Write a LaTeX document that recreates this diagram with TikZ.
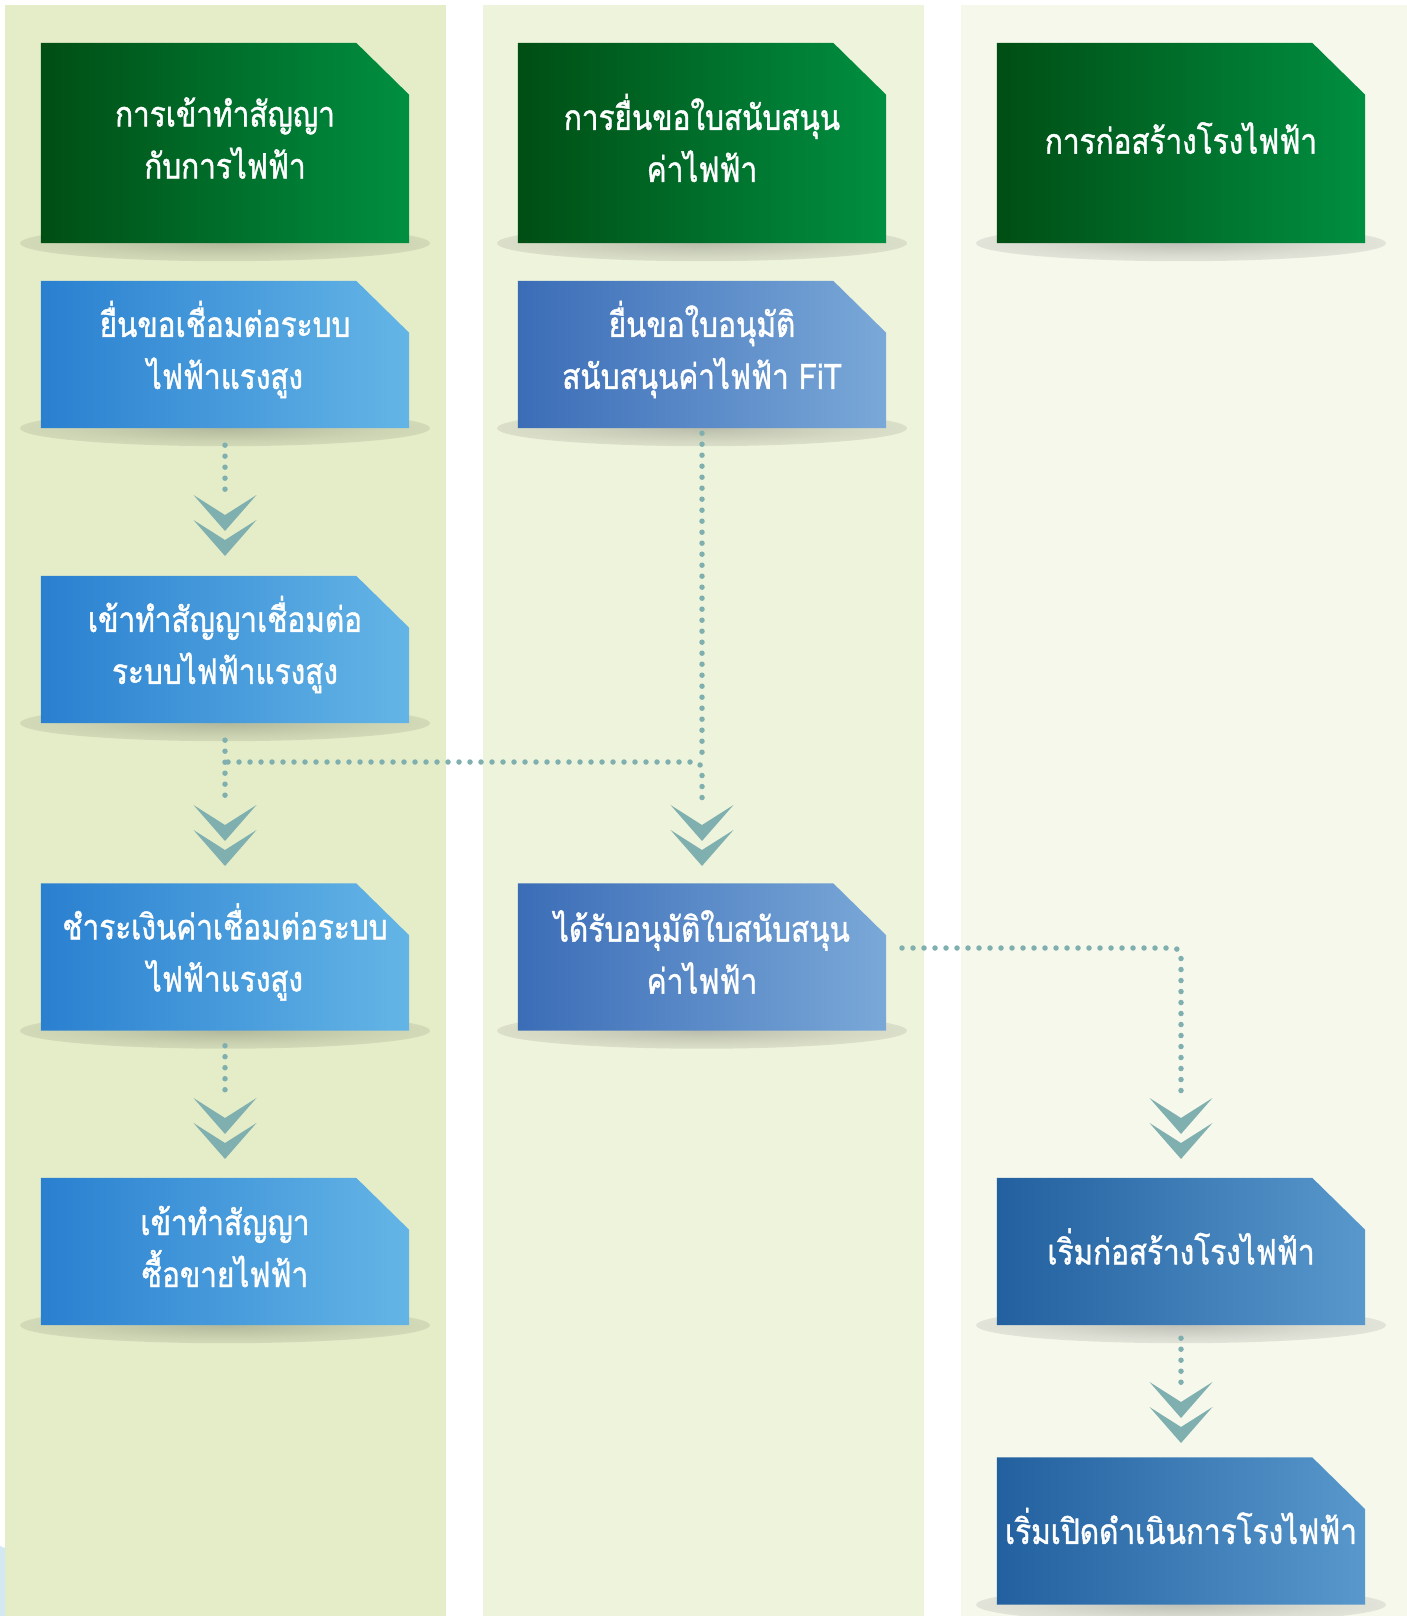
\documentclass[tikz,border=0pt]{standalone}
\usepackage{fontspec}
\newfontfamily\thai[Script=Thai, FakeStretch=0.85, FakeBold=1.2]{Loma}
\usetikzlibrary{calc}
\definecolor{bgA}{HTML}{E5EDC8}
\definecolor{bgB}{HTML}{EEF3DB}
\definecolor{bgC}{HTML}{F6F8EC}
\definecolor{hdL}{HTML}{004E14}
\definecolor{hdR}{HTML}{008F41}
\definecolor{aL}{HTML}{2A80D0}
\definecolor{aR}{HTML}{64B5E6}
\definecolor{bL}{HTML}{3B6DB7}
\definecolor{bR}{HTML}{7AA8D8}
\definecolor{cL}{HTML}{22609F}
\definecolor{cR}{HTML}{5898CC}
\definecolor{chevc}{HTML}{80AFAF}
\definecolor{artif}{HTML}{D4E8F2}
\colorlet{shin}{black}
\colorlet{shout}{white}
\pgfdeclareradialshading[shin,shout]{softsh}{\pgfpoint{0bp}{0bp}}{color(0bp)=(shin); color(18bp)=(shin!50!shout); color(40bp)=(shin!10!shout); color(50bp)=(shout)}
\pgfdeclarelayer{colbg}
\pgfdeclarelayer{shadowlayer}
\pgfdeclarelayer{boxlayer}
\pgfsetlayers{colbg,shadowlayer,boxlayer,main}
\newcommand\undershadow[2]{%
  \begin{pgfonlayer}{shadowlayer}
  \begin{scope}
  \colorlet{shin}{#2!78!black}\colorlet{shout}{#2}
  \shade[shading=softsh] (#1.south) ellipse (205pt and 18pt);
  \end{scope}
  \end{pgfonlayer}}
\newcommand\cutfill[3]{%
  \begin{pgfonlayer}{boxlayer}
  \shade[left color=#2, right color=#3] (#1.south west) -- (#1.north west) -- ([xshift=-53pt]#1.north east) -- ([yshift=-52pt]#1.north east) -- (#1.south east) -- cycle;
  \end{pgfonlayer}}
\tikzset{
  cutbox/.style={minimum width=368pt, minimum height=147pt, inner sep=0pt},
  headbox/.style={cutbox, minimum height=200pt},
  boxtext/.style={text=white, align=center, inner sep=0pt, yshift=5pt, font=\thai\fontsize{35}{52}\selectfont},
  dotline/.style={draw=chevc, line width=5.5pt, line cap=round, dash pattern=on 0pt off 11pt},
  dchev/.pic={
    \fill[chevc] (-31.5,0) -- (0,20) -- (31.5,0) -- (0,36) -- cycle;
    \fill[chevc] (-31.5,25) -- (0,45) -- (31.5,25) -- (0,61) -- cycle;
  }
}
\begin{document}
\begin{tikzpicture}[x=1pt,y=-1pt]
\useasboundingbox (0,0) rectangle (1407,1616);
\begin{pgfonlayer}{colbg}
\fill[white] (0,0) rectangle (1407,1616);
\fill[bgA] (5,5) rectangle (446,1616);
\fill[bgB] (483,5) rectangle (924,1616);
\fill[bgC] (961,5) rectangle (1407,1616);
\fill[artif] (0,1546) -- (5,1548) -- (5,1616) -- (0,1616) -- cycle;
\end{pgfonlayer}

% headers
\node[headbox, label={[boxtext]center:{การเข้าทำสัญญา\\กับการไฟฟ้า}}] (h1) at (225,143) {};
\node[headbox, label={[boxtext]center:{การยื่นขอใบสนับสนุน\\ค่าไฟฟ้า}}] (h2) at (702,143) {};
\node[headbox, label={[boxtext]center:{การก่อสร้างโรงไฟฟ้า}}] (h3) at (1181,143) {};
% column 1
\node[cutbox, label={[boxtext]center:{ยื่นขอเชื่อมต่อระบบ\\ไฟฟ้าแรงสูง}}] (a1) at (225,354.5) {};
\node[cutbox, label={[boxtext]center:{เข้าทำสัญญาเชื่อมต่อ\\ระบบไฟฟ้าแรงสูง}}] (b1) at (225,649.5) {};
\node[cutbox, label={[boxtext]center:{ชำระเงินค่าเชื่อมต่อระบบ\\ไฟฟ้าแรงสูง}}] (c1) at (225,957) {};
\node[cutbox, label={[boxtext]center:{เข้าทำสัญญา\\ซื้อขายไฟฟ้า}}] (d1) at (225,1251.5) {};
% column 2
\node[cutbox, label={[boxtext]center:{ยื่นขอใบอนุมัติ\\สนับสนุนค่าไฟฟ้า FiT}}] (a2) at (702,354.5) {};
\node[cutbox, label={[boxtext]center:{ได้รับอนุมัติใบสนับสนุน\\ค่าไฟฟ้า}}] (c2) at (702,957) {};
% column 3
\node[cutbox, label={[boxtext]center:{เริ่มก่อสร้างโรงไฟฟ้า}}] (d3) at (1181,1251.5) {};
\node[cutbox, label={[boxtext]center:{เริ่มเปิดดำเนินการโรงไฟฟ้า}}] (e3) at (1181,1531) {};

\cutfill{h1}{hdL}{hdR}\cutfill{h2}{hdL}{hdR}\cutfill{h3}{hdL}{hdR}
\cutfill{a1}{aL}{aR}\cutfill{b1}{aL}{aR}\cutfill{c1}{aL}{aR}\cutfill{d1}{aL}{aR}
\cutfill{a2}{bL}{bR}\cutfill{c2}{bL}{bR}
\cutfill{d3}{cL}{cR}\cutfill{e3}{cL}{cR}

\undershadow{h1}{bgA}\undershadow{a1}{bgA}\undershadow{b1}{bgA}\undershadow{c1}{bgA}\undershadow{d1}{bgA}
\undershadow{h2}{bgB}\undershadow{a2}{bgB}\undershadow{c2}{bgB}
\undershadow{h3}{bgC}\undershadow{d3}{bgC}\undershadow{e3}{bgC}

% chevron tops
\coordinate (k1) at (225,495);
\coordinate (k2) at (225,805);
\coordinate (k3) at (702,805);
\coordinate (k4) at (225,1098);
\coordinate (k5) at (1181,1098);
\coordinate (k6) at (1181,1382);
\coordinate (j1) at (228,762);
\coordinate (j2) at (702,757);
\coordinate (j3) at (902,948);

\draw[dotline] ([yshift=-17pt]a1.south) -- (k1);
\draw[dotline] ([yshift=-17pt]b1.south) -- ([yshift=4pt]k2);
\draw[dotline] ([yshift=-5pt]a2.south) -- (j2);
\draw[dotline, rounded corners=8pt] (j1) -- (j1 -| k3) -- ([yshift=4pt]k3);
\draw[dotline] ([yshift=-15pt]c1.south) -- ([yshift=4pt]k4);
\draw[dotline, rounded corners=8pt] (j3) -- (j3 -| k5) -- ([yshift=4pt]k5);
\draw[dotline] ([yshift=-13pt]d3.south) -- ([yshift=-4pt]k6);

\foreach \k in {k1,k2,k3,k4,k5,k6} \pic at (\k) {dchev};
\end{tikzpicture}
\end{document}
